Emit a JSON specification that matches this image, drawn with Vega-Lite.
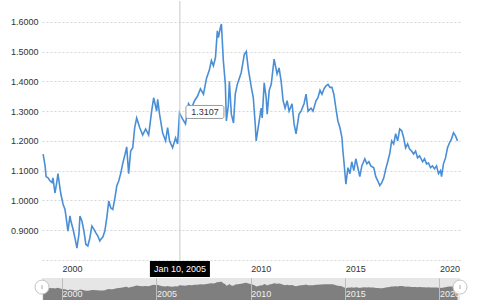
{
  "$schema": "https://vega.github.io/schema/vega-lite/v6.json",
  "padding": {"left": 10, "top": 0, "right": 0, "bottom": 0},
  "background": "white",
  "config": {"font": "Liberation Sans", "view": {"stroke": null}, "concat": {"spacing": 18}, "axis": {"labelOverlap": false}},
  "bounds": "flush",
  "datasets": {
    "fx": [
      {"date": "1999-01-01", "value": 1.156},
      {"date": "1999-02-08", "value": 1.116},
      {"date": "1999-02-27", "value": 1.08},
      {"date": "1999-04-06", "value": 1.076},
      {"date": "1999-05-13", "value": 1.066},
      {"date": "1999-06-21", "value": 1.06},
      {"date": "1999-07-10", "value": 1.076},
      {"date": "1999-08-18", "value": 1.025},
      {"date": "1999-09-26", "value": 1.066},
      {"date": "1999-10-15", "value": 1.09},
      {"date": "1999-11-24", "value": 1.04},
      {"date": "1999-12-12", "value": 1.02},
      {"date": "2000-01-20", "value": 0.988},
      {"date": "2000-02-28", "value": 0.97},
      {"date": "2000-03-17", "value": 0.948},
      {"date": "2000-04-25", "value": 0.897},
      {"date": "2000-06-03", "value": 0.948},
      {"date": "2000-06-22", "value": 0.93},
      {"date": "2000-08-01", "value": 0.904},
      {"date": "2000-09-08", "value": 0.874},
      {"date": "2000-10-16", "value": 0.84},
      {"date": "2000-11-24", "value": 0.887},
      {"date": "2000-12-13", "value": 0.948},
      {"date": "2001-01-21", "value": 0.93},
      {"date": "2001-03-01", "value": 0.897},
      {"date": "2001-04-06", "value": 0.853},
      {"date": "2001-05-15", "value": 0.847},
      {"date": "2001-06-23", "value": 0.874},
      {"date": "2001-08-01", "value": 0.914},
      {"date": "2001-09-09", "value": 0.904},
      {"date": "2001-10-17", "value": 0.891},
      {"date": "2001-11-25", "value": 0.88},
      {"date": "2002-01-03", "value": 0.864},
      {"date": "2002-01-22", "value": 0.87},
      {"date": "2002-03-01", "value": 0.877},
      {"date": "2002-04-09", "value": 0.897},
      {"date": "2002-05-16", "value": 0.941},
      {"date": "2002-06-24", "value": 0.998},
      {"date": "2002-08-02", "value": 0.975},
      {"date": "2002-09-10", "value": 0.97},
      {"date": "2002-10-18", "value": 1.005},
      {"date": "2002-11-26", "value": 1.049},
      {"date": "2003-01-04", "value": 1.066},
      {"date": "2003-02-12", "value": 1.092},
      {"date": "2003-03-20", "value": 1.123},
      {"date": "2003-04-28", "value": 1.15},
      {"date": "2003-06-06", "value": 1.18},
      {"date": "2003-07-14", "value": 1.09},
      {"date": "2003-08-22", "value": 1.166},
      {"date": "2003-10-01", "value": 1.177},
      {"date": "2003-11-08", "value": 1.245},
      {"date": "2003-12-16", "value": 1.277},
      {"date": "2004-02-12", "value": 1.245},
      {"date": "2004-04-10", "value": 1.22},
      {"date": "2004-06-07", "value": 1.24},
      {"date": "2004-08-04", "value": 1.22},
      {"date": "2004-10-01", "value": 1.30},
      {"date": "2004-11-09", "value": 1.345},
      {"date": "2005-01-06", "value": 1.30},
      {"date": "2005-01-25", "value": 1.34},
      {"date": "2005-03-03", "value": 1.29},
      {"date": "2005-05-01", "value": 1.227},
      {"date": "2005-06-28", "value": 1.20},
      {"date": "2005-08-06", "value": 1.245},
      {"date": "2005-09-13", "value": 1.20},
      {"date": "2005-11-10", "value": 1.177},
      {"date": "2006-01-07", "value": 1.21},
      {"date": "2006-02-15", "value": 1.19},
      {"date": "2006-03-24", "value": 1.294},
      {"date": "2006-05-21", "value": 1.274},
      {"date": "2006-07-18", "value": 1.257},
      {"date": "2006-09-15", "value": 1.325},
      {"date": "2006-11-12", "value": 1.31},
      {"date": "2007-01-09", "value": 1.335},
      {"date": "2007-03-06", "value": 1.35},
      {"date": "2007-05-03", "value": 1.375},
      {"date": "2007-07-01", "value": 1.357},
      {"date": "2007-08-28", "value": 1.41},
      {"date": "2007-10-25", "value": 1.44},
      {"date": "2007-12-01", "value": 1.47},
      {"date": "2008-01-09", "value": 1.452},
      {"date": "2008-02-18", "value": 1.48},
      {"date": "2008-03-25", "value": 1.57},
      {"date": "2008-04-15", "value": 1.547},
      {"date": "2008-05-22", "value": 1.58},
      {"date": "2008-06-12", "value": 1.593},
      {"date": "2008-07-19", "value": 1.47},
      {"date": "2008-08-27", "value": 1.39},
      {"date": "2008-09-16", "value": 1.267},
      {"date": "2008-10-24", "value": 1.32},
      {"date": "2008-11-13", "value": 1.40},
      {"date": "2008-12-21", "value": 1.29},
      {"date": "2009-02-01", "value": 1.26},
      {"date": "2009-03-07", "value": 1.357},
      {"date": "2009-04-15", "value": 1.39},
      {"date": "2009-05-24", "value": 1.41},
      {"date": "2009-07-01", "value": 1.43},
      {"date": "2009-08-28", "value": 1.49},
      {"date": "2009-10-06", "value": 1.50},
      {"date": "2009-11-15", "value": 1.44},
      {"date": "2010-01-12", "value": 1.38},
      {"date": "2010-02-19", "value": 1.345},
      {"date": "2010-03-28", "value": 1.257},
      {"date": "2010-04-16", "value": 1.20},
      {"date": "2010-06-13", "value": 1.267},
      {"date": "2010-07-21", "value": 1.31},
      {"date": "2010-08-10", "value": 1.277},
      {"date": "2010-09-18", "value": 1.395},
      {"date": "2010-10-26", "value": 1.345},
      {"date": "2010-11-15", "value": 1.29},
      {"date": "2010-12-24", "value": 1.37},
      {"date": "2011-02-01", "value": 1.39},
      {"date": "2011-03-29", "value": 1.475},
      {"date": "2011-05-25", "value": 1.425},
      {"date": "2011-07-03", "value": 1.445},
      {"date": "2011-08-12", "value": 1.40},
      {"date": "2011-09-19", "value": 1.335},
      {"date": "2011-10-27", "value": 1.31},
      {"date": "2011-12-05", "value": 1.335},
      {"date": "2012-01-13", "value": 1.30},
      {"date": "2012-03-10", "value": 1.325},
      {"date": "2012-04-18", "value": 1.257},
      {"date": "2012-05-26", "value": 1.224},
      {"date": "2012-07-23", "value": 1.29},
      {"date": "2012-09-01", "value": 1.30},
      {"date": "2012-10-28", "value": 1.325},
      {"date": "2012-12-06", "value": 1.357},
      {"date": "2013-01-14", "value": 1.30},
      {"date": "2013-03-12", "value": 1.31},
      {"date": "2013-04-19", "value": 1.30},
      {"date": "2013-06-16", "value": 1.335},
      {"date": "2013-07-24", "value": 1.345},
      {"date": "2013-09-02", "value": 1.37},
      {"date": "2013-10-10", "value": 1.357},
      {"date": "2013-11-18", "value": 1.375},
      {"date": "2013-12-27", "value": 1.385},
      {"date": "2014-02-04", "value": 1.39},
      {"date": "2014-03-13", "value": 1.38},
      {"date": "2014-04-21", "value": 1.38},
      {"date": "2014-05-28", "value": 1.357},
      {"date": "2014-07-06", "value": 1.31},
      {"date": "2014-08-14", "value": 1.267},
      {"date": "2014-09-22", "value": 1.245},
      {"date": "2014-11-01", "value": 1.21},
      {"date": "2014-11-19", "value": 1.166},
      {"date": "2014-12-09", "value": 1.13},
      {"date": "2015-01-16", "value": 1.055},
      {"date": "2015-02-24", "value": 1.11},
      {"date": "2015-04-03", "value": 1.09},
      {"date": "2015-05-10", "value": 1.13},
      {"date": "2015-06-18", "value": 1.10},
      {"date": "2015-07-27", "value": 1.14},
      {"date": "2015-09-04", "value": 1.11},
      {"date": "2015-10-12", "value": 1.08},
      {"date": "2015-11-20", "value": 1.116},
      {"date": "2016-01-17", "value": 1.14},
      {"date": "2016-02-25", "value": 1.123},
      {"date": "2016-04-04", "value": 1.13},
      {"date": "2016-05-12", "value": 1.116},
      {"date": "2016-07-09", "value": 1.11},
      {"date": "2016-08-16", "value": 1.08},
      {"date": "2016-09-24", "value": 1.066},
      {"date": "2016-11-02", "value": 1.05},
      {"date": "2016-12-10", "value": 1.06},
      {"date": "2017-01-18", "value": 1.076},
      {"date": "2017-02-26", "value": 1.106},
      {"date": "2017-04-04", "value": 1.13},
      {"date": "2017-05-12", "value": 1.156},
      {"date": "2017-06-20", "value": 1.20},
      {"date": "2017-07-28", "value": 1.19},
      {"date": "2017-09-05", "value": 1.224},
      {"date": "2017-10-14", "value": 1.20},
      {"date": "2017-11-22", "value": 1.24},
      {"date": "2018-01-01", "value": 1.234},
      {"date": "2018-02-08", "value": 1.21},
      {"date": "2018-03-16", "value": 1.177},
      {"date": "2018-04-24", "value": 1.19},
      {"date": "2018-06-02", "value": 1.173},
      {"date": "2018-07-10", "value": 1.166},
      {"date": "2018-08-18", "value": 1.156},
      {"date": "2018-09-26", "value": 1.166},
      {"date": "2018-11-03", "value": 1.143},
      {"date": "2018-12-12", "value": 1.15},
      {"date": "2019-02-09", "value": 1.13},
      {"date": "2019-03-18", "value": 1.14},
      {"date": "2019-04-25", "value": 1.123},
      {"date": "2019-06-03", "value": 1.126},
      {"date": "2019-07-12", "value": 1.11},
      {"date": "2019-08-19", "value": 1.116},
      {"date": "2019-09-27", "value": 1.106},
      {"date": "2019-11-05", "value": 1.116},
      {"date": "2019-12-13", "value": 1.09},
      {"date": "2020-01-21", "value": 1.10},
      {"date": "2020-02-10", "value": 1.08},
      {"date": "2020-03-18", "value": 1.123},
      {"date": "2020-04-27", "value": 1.143},
      {"date": "2020-06-04", "value": 1.177},
      {"date": "2020-07-12", "value": 1.193},
      {"date": "2020-08-20", "value": 1.207},
      {"date": "2020-09-28", "value": 1.227},
      {"date": "2020-11-06", "value": 1.217},
      {"date": "2020-12-15", "value": 1.20}
    ],
    "hover": [{"date": "2006-04-01", "value": 1.3107, "label": "Jan 10, 2005", "text": "1.3107"}],
    "handles": [{"date": "1998-12-10"}, {"date": "2021-02-01"}]
  },
  "vconcat": [
    {
      "width": 418,
      "height": 259,
      "layer": [
        {
          "data": {"name": "fx"},
          "mark": {"type": "line", "color": "#4a8fd6", "strokeWidth": 1.6},
          "encoding": {
            "x": {
              "field": "date", "type": "temporal",
              "scale": {"domain": ["1998-12-10", "2021-02-01"]},
              "axis": {
                "values": [{"year": 2000}, {"year": 2010}, {"year": 2015}, {"year": 2020}],
                "format": "%Y", "labelAlign": "left", "labelBaseline": "top", "labelPadding": 4,
                "ticks": false, "domain": false, "grid": false, "title": null,
                "labelFontSize": 9, "labelColor": "#333333", "labelFlush": false, "labelOverlap": false
              }
            },
            "y": {
              "field": "value", "type": "quantitative",
              "scale": {"domain": [0.8, 1.67], "nice": false, "zero": false},
              "axis": {
                "tickCount": 9,
                "labelExpr": "datum.value < 0.85 ? '' : format(datum.value, '.4f')",
                "grid": true, "gridColor": "#d6d6d6", "gridDash": [2, 2],
                "domain": false, "ticks": false, "labelPadding": 4, "title": null,
                "labelFontSize": 9, "labelColor": "#333333", "labelOverlap": false, "labelFlush": false
              }
            }
          }
        },
        {
          "data": {"name": "hover"},
          "mark": {"type": "rule", "color": "#c8c8c8", "strokeWidth": 1},
          "encoding": {"x": {"field": "date", "type": "temporal"}}
        },
        {
          "data": {"name": "hover"},
          "mark": {"type": "rect", "width": 38, "height": 13, "xOffset": 25, "yOffset": 4, "fill": "white", "stroke": "#9a9a9a", "strokeWidth": 1, "cornerRadius": 2},
          "encoding": {
            "x": {"field": "date", "type": "temporal"},
            "y": {"field": "value", "type": "quantitative"}
          }
        },
        {
          "data": {"name": "hover"},
          "mark": {"type": "text", "xOffset": 25, "yOffset": 4, "fontSize": 9, "color": "#333333", "baseline": "middle", "align": "center"},
          "encoding": {
            "x": {"field": "date", "type": "temporal"},
            "y": {"field": "value", "type": "quantitative"},
            "text": {"field": "text"}
          }
        },
        {
          "data": {"name": "hover"},
          "mark": {"type": "rect", "width": 60, "height": 16, "yOffset": 9, "fill": "#000000"},
          "encoding": {
            "x": {"field": "date", "type": "temporal"},
            "y": {"datum": 0.8}
          }
        },
        {
          "data": {"name": "hover"},
          "mark": {"type": "text", "yOffset": 9, "fontSize": 9, "color": "white", "baseline": "middle", "align": "center"},
          "encoding": {
            "x": {"field": "date", "type": "temporal"},
            "y": {"datum": 0.8},
            "text": {"field": "label"}
          }
        }
      ]
    },
    {
      "width": 418,
      "height": 23,
      "view": {"fill": "#e6e6e6", "stroke": null},
      "layer": [
        {
          "data": {"name": "fx"},
          "mark": {"type": "area", "color": "#7f7f7f", "opacity": 1},
          "encoding": {
            "x": {
              "field": "date", "type": "temporal",
              "scale": {"domain": ["1998-12-10", "2021-02-01"]},
              "axis": {
                "values": [{"year": 2000}, {"year": 2005}, {"year": 2010}, {"year": 2015}, {"year": 2020}],
                "format": "%Y", "grid": true, "gridColor": "#bdbdbd", "zindex": 1,
                "labelAlign": "left", "labelBaseline": "middle", "labelPadding": -8,
                "ticks": false, "domain": false, "labelColor": "#f0f0f0", "labelFontSize": 9,
                "title": null, "labelFlush": false, "labelOverlap": false
              }
            },
            "y": {"field": "value", "type": "quantitative", "scale": {"domain": [0, 1.9], "nice": false}, "axis": null}
          }
        },
        {
          "data": {"name": "handles"},
          "mark": {"type": "point", "shape": "circle", "filled": true, "fill": "white", "stroke": "#c4c4c4", "strokeWidth": 1, "size": 196, "opacity": 1},
          "encoding": {
            "x": {"field": "date", "type": "temporal"},
            "y": {"datum": 1.15}
          }
        },
        {
          "data": {"name": "handles"},
          "mark": {"type": "point", "shape": "M0,-1V1", "filled": false, "stroke": "#aaaaaa", "strokeWidth": 1, "size": 16, "opacity": 1},
          "encoding": {
            "x": {"field": "date", "type": "temporal"},
            "y": {"datum": 1.15}
          }
        }
      ]
    }
  ]
}
